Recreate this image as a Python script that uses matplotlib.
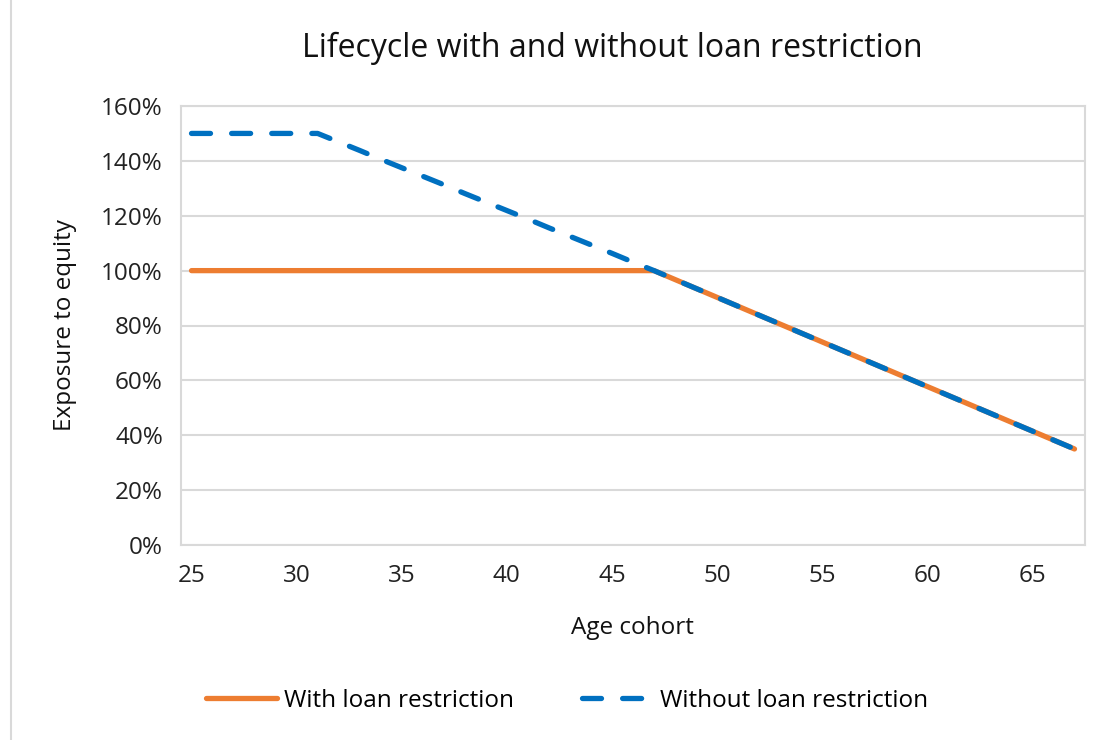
import matplotlib.pyplot as plt
from matplotlib.lines import Line2D
from matplotlib.ticker import PercentFormatter

ages = list(range(25, 68))

# exposure to equity, in percent
with_restriction = [
    100, 100, 100, 100, 100, 100, 100, 100, 100, 100,
    100, 100, 100, 100, 100, 100, 100, 100, 100, 100,
    100, 100, 100,
    96.75, 93.5, 90.25, 87, 83.75, 80.5, 77.25, 74, 70.75, 67.5,
    64.25, 61, 57.75, 54.5, 51.25, 48, 44.75, 41.5, 38.25, 35,
]
without_restriction = [
    150, 150, 150, 150, 150, 150, 150,
    146.9, 143.8, 140.6, 137.5, 134.4, 131.3, 128.1, 125, 121.9,
    118.8, 115.6, 112.5, 109.4, 106.3, 103.1, 100,
    96.75, 93.5, 90.25, 87, 83.75, 80.5, 77.25, 74, 70.75, 67.5,
    64.25, 61, 57.75, 54.5, 51.25, 48, 44.75, 41.5, 38.25, 35,
]
x_ticks = [25, 30, 35, 40, 45, 50, 55, 60, 65]
y_ticks = [0, 20, 40, 60, 80, 100, 120, 140, 160]

orange = '#ED7D31'
blue = '#0070C0'
grid = '#D9D9D9'
txt = '#111111'

plt.rcParams['font.family'] = ['Open Sans', 'DejaVu Sans']

W, H = 1098, 740
fig = plt.figure(figsize=(W / 100, H / 100), dpi=100)
ax = fig.add_axes([181 / W, 1 - 545 / H, (1085 - 181) / W, (545 - 106) / H])

ax.plot(ages, with_restriction, color=orange, lw=3.8,
        solid_capstyle='round', label='With loan restriction', zorder=3)
ax.plot(ages, without_restriction, color=blue, lw=3.8,
        dashes=(3.6, 4.0), dash_capstyle='round',
        label='Without loan restriction', zorder=4)

ax.set_xlim(24.5, 67.5)
ax.set_ylim(0, 160)
ax.set_xticks(x_ticks)
ax.set_yticks(y_ticks)
ax.yaxis.set_major_formatter(PercentFormatter(decimals=0))
ax.grid(axis='y', color=grid, lw=1.5, zorder=0)
for s in ax.spines.values():
    s.set_color(grid)
    s.set_linewidth(1.5)
ax.tick_params(axis='both', length=0, labelsize=17.5, colors='#222222')
ax.tick_params(axis='y', pad=13)
ax.tick_params(axis='x', pad=14)

fig.text(612 / W, 1 - 48 / H, 'Lifecycle with and without loan restriction',
         fontsize=23, color=txt, ha='center', va='center')
fig.text(632 / W, 1 - 628 / H, 'Age cohort', fontsize=17.5, color=txt,
         ha='center', va='center')
fig.text(65 / W, 1 - 325 / H, 'Exposure to equity', fontsize=17.5, color=txt,
         ha='center', va='center', rotation=90)

fig.legend(loc='center', bbox_to_anchor=(567 / W, 1 - 701 / H), ncol=2,
           frameon=False, fontsize=17.5, handlelength=2.9, handletextpad=0.3,
           columnspacing=2.8)

# chart area border on the left edge
fig.add_artist(Line2D([11 / W, 11 / W], [0, 1], color=grid, lw=1.5,
                      transform=fig.transFigure))

fig.savefig('out.png', dpi=100, facecolor='white')
